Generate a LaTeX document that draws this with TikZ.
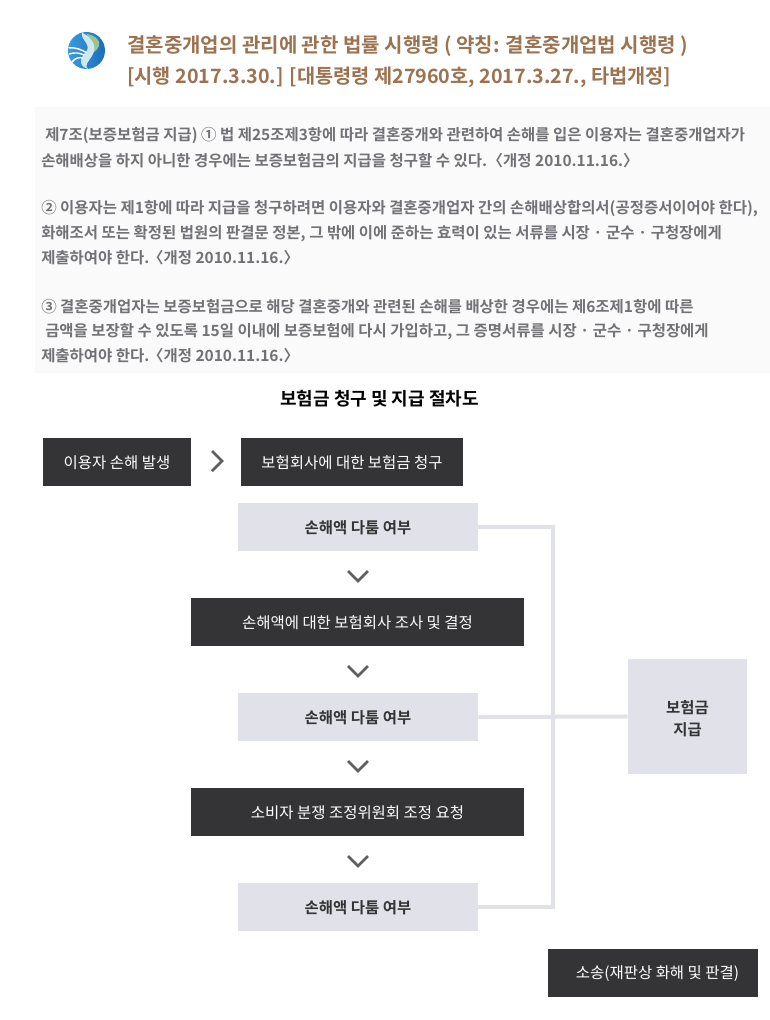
\documentclass[tikz,border=0pt]{standalone}
\usepackage{fontspec}
\setmainfont{Noto Sans CJK KR}
\newfontfamily\krb{Noto Sans CJK KR Bold}
\usetikzlibrary{calc}
\definecolor{darkbox}{HTML}{343436}
\definecolor{lightbox}{HTML}{E1E2E9}
\definecolor{titlebrown}{HTML}{9C7350}
\definecolor{lawgrey}{HTML}{727276}
\definecolor{panelbg}{HTML}{FAFAFB}
\definecolor{chev}{HTML}{5F5F62}
\definecolor{logoA}{HTML}{3A9BDD}
\definecolor{logoB}{HTML}{1B6DBE}
\definecolor{logoG}{HTML}{9CC48C}
\definecolor{logoL}{HTML}{CDE8F0}
\newcommand{\dn}[2][1.6pt]{\raisebox{0pt}[\dimexpr\height+#1\relax][\depth]{#2}}
\newcommand{\lb}[1]{\kern#1〈}
\tikzset{
  x=0.75pt,y=-0.75pt,
  darknode/.style={fill=darkbox,text=white,inner sep=0pt,font=\fontsize{11.6pt}{13pt}\selectfont},
  lightnode/.style={fill=lightbox,text=darkbox,inner sep=0pt,font=\krb\fontsize{11.6pt}{13pt}\selectfont},
  chevron/.style={draw=chev,line width=2pt,fill=none},
  linkline/.style={draw=lightbox,line width=3pt},
  lawline/.style={anchor=west,inner sep=0pt,text=lawgrey,font=\krb\fontsize{11.6pt}{13pt}\selectfont},
  titleline/.style={anchor=west,inner sep=0pt,text=titlebrown,font=\krb\fontsize{15pt}{17pt}\selectfont},
}
\begin{document}
\begin{tikzpicture}
\useasboundingbox (0,0) rectangle (770,1020);
\fill[white] (0,0) rectangle (770,1020);
% logo
\begin{scope}
\shade[left color=logoA,right color=logoB] (86.5,50.5) circle [radius=18.5];
\fill[logoG] (87,34) .. controls (100,36) and (103,46) .. (94,52) .. controls (90,46) and (84,42) .. (87,34);
\fill[logoL] (82,32.5) .. controls (92,38) and (98,46) .. (92,56) .. controls (88,62) and (84,66) .. (88,69) .. controls (78,66) and (80,58) .. (86,52) .. controls (92,44) and (80,40) .. (82,32.5);
\draw[white,line width=1.1pt] (68.5,48) .. controls (76,47) and (82,50) .. (87,53);
\draw[white,line width=1.1pt] (69,54) .. controls (75,52) and (80,53) .. (84,55);
\draw[white,line width=1.1pt] (72,62) .. controls (75,58) and (79,57) .. (83,58);
\end{scope}
\node[titleline] (t1) at (127,46) {결혼중개업의 관리에 관한 법률 시행령 ( 약칭: 결혼중개업법 시행령 )};
\node[titleline,font=\krb\fontsize{14.8pt}{17pt}\selectfont] (t2) at (127,77.5) {[시행 2017.3.30.] [대통령령 제27960호, 2017.3.27., 타법개정]};
\fill[panelbg] (35,107) rectangle (770,373);
\node[lawline] (l1) at (45,135.5) {제7조(보증보험금 지급) ① 법 제25조제3항에 따라 결혼중개와 관련하여 손해를 입은 이용자는 결혼중개업자가};
\node[lawline] (l2) at (41,160.5) {손해배상을 하지 아니한 경우에는 보증보험금의 지급을 청구할 수 있다. \lb{-3pt}개정 2010.11.16.〉};
\node[lawline] (l3) at (41,208.5) {② 이용자는 제1항에 따라 지급을 청구하려면 이용자와 결혼중개업자 간의 손해배상합의서(공정증서이어야 한다),};
\node[lawline] (l4) at (41,233.5) {화해조서 또는 확정된 법원의 판결문 정본, 그 밖에 이에 준하는 효력이 있는 서류를 시장 · 군수 · 구청장에게};
\node[lawline] (l5) at (41,258) {제출하여야 한다. \lb{-4.5pt}개정 2010.11.16.〉};
\node[lawline] (l6) at (41,306.5) {③ 결혼중개업자는 보증보험금으로 해당 결혼중개와 관련된 손해를 배상한 경우에는 제6조제1항에 따른};
\node[lawline] (l7) at (45,331.5) {금액을 보장할 수 있도록 15일 이내에 보증보험에 다시 가입하고, 그 증명서류를 시장 · 군수 · 구청장에게};
\node[lawline] (l8) at (41,355.5) {제출하여야 한다. \lb{-4.5pt}개정 2010.11.16.〉};
\node[inner sep=0pt,text=black,font=\krb\fontsize{13.5pt}{15pt}\selectfont] (head) at (379.5,399) {보험금 청구 및 지급 절차도};
% connectors first
\coordinate (trunkT) at (553,527);
\coordinate (trunkB) at (553,907);
\node[lightnode,minimum width=180pt,minimum height=36pt] (d1) at (358,527) {\dn{손해액 다툼 여부}};
\node[lightnode,minimum width=180pt,minimum height=36pt] (d2) at (358,717) {\dn{손해액 다툼 여부}};
\node[lightnode,minimum width=180pt,minimum height=36pt] (d3) at (358,907) {\dn{손해액 다툼 여부}};
\node[lightnode,minimum width=89.25pt,minimum height=86.25pt] (pay) at (687.5,716.5) {\dn[6pt]{\begin{tabular}{@{}c@{}}보험금\\[3pt]지급\end{tabular}}};
\draw[linkline] (d1.east) -- (trunkT) -- (trunkB) -- (d3.east);
\draw[linkline] (d2.east) -- (pay.west);
\node[darknode,minimum width=111pt,minimum height=36pt] (n1) at (117,462) {\dn{이용자 손해 발생}};
\node[darknode,minimum width=166.5pt,minimum height=36pt] (n2) at (352,462) {\dn{보험회사에 대한 보험금 청구}};
\node[darknode,minimum width=250pt,minimum height=36pt] (n3) at (357.5,622) {\dn{손해액에 대한 보험회사 조사 및 결정}};
\node[darknode,minimum width=250pt,minimum height=36pt] (n4) at (357.5,812) {\dn{소비자 분쟁 조정위원회 조정 요청}};
\node[darknode,minimum width=157.5pt,minimum height=36pt] (n5) at (653,973) {\hspace{6.75pt}\dn{소송(재판상 화해 및 판결)}};
% chevrons
\draw[chevron] (212,451) -- (222,461) -- (212,471);
\draw[chevron] (348,571) -- (358,581) -- (368,571);
\draw[chevron] (348,666) -- (358,676) -- (368,666);
\draw[chevron] (348,761) -- (358,771) -- (368,761);
\draw[chevron] (348,856) -- (358,866) -- (368,856);
\end{tikzpicture}
\end{document}
